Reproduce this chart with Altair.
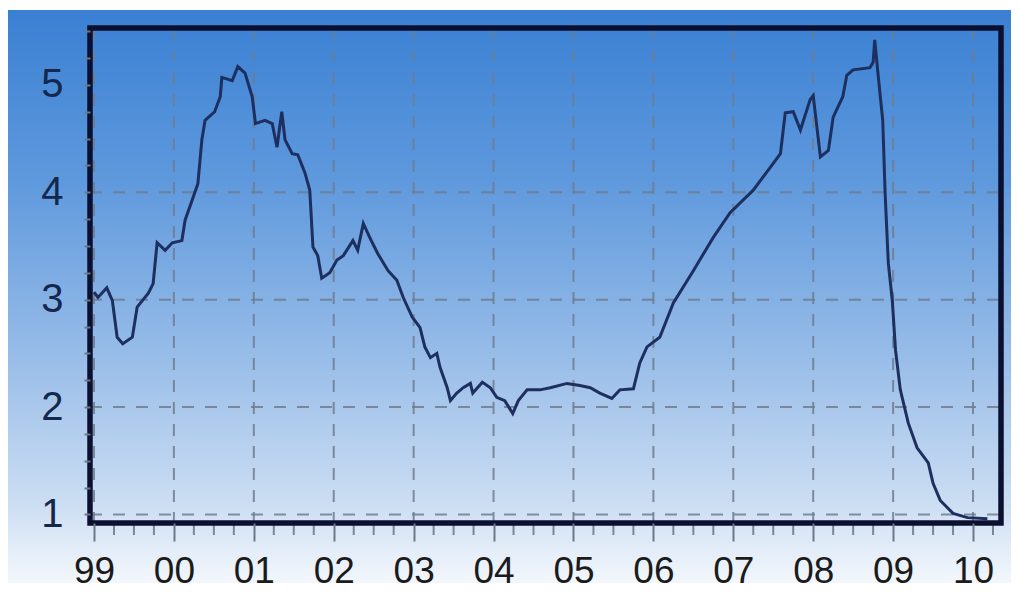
import altair as alt
import pandas as pd

# ---- data ----
years = [1999.00, 1999.05, 1999.16, 1999.23, 1999.29, 1999.36, 1999.48, 1999.54, 1999.68, 1999.74, 1999.79, 1999.89, 1999.98,
         2000.10, 2000.14, 2000.23, 2000.30, 2000.35, 2000.39, 2000.51, 2000.58, 2000.60, 2000.73, 2000.80, 2000.89, 2000.98,
         2001.02, 2001.14, 2001.23, 2001.29, 2001.35, 2001.39, 2001.48, 2001.55, 2001.64, 2001.70, 2001.74, 2001.80, 2001.85, 2001.95,
         2002.04, 2002.12, 2002.24, 2002.30, 2002.37, 2002.45, 2002.55, 2002.68, 2002.79, 2002.87, 2002.98,
         2003.08, 2003.14, 2003.21, 2003.29, 2003.33, 2003.42, 2003.46, 2003.54, 2003.62, 2003.71, 2003.74, 2003.86, 2003.96,
         2004.04, 2004.14, 2004.24, 2004.31, 2004.42, 2004.58, 2004.71, 2004.92,
         2005.08, 2005.21, 2005.33, 2005.48, 2005.58, 2005.75, 2005.83, 2005.92,
         2006.08, 2006.25, 2006.50, 2006.75, 2006.96,
         2007.25, 2007.59, 2007.65, 2007.75, 2007.84, 2007.96,
         2008.00, 2008.09, 2008.19, 2008.25, 2008.37, 2008.42, 2008.50, 2008.71, 2008.75, 2008.77, 2008.81, 2008.87, 2008.90, 2008.94, 2008.99,
         2009.03, 2009.09, 2009.19, 2009.30, 2009.44, 2009.50, 2009.59, 2009.75, 2009.93, 2010.18]

rate = [3.07, 3.02, 3.11, 2.99, 2.65, 2.59, 2.65, 2.93, 3.06, 3.15, 3.53, 3.46, 3.53,
        3.55, 3.74, 3.93, 4.08, 4.49, 4.67, 4.75, 4.89, 5.07, 5.04, 5.17, 5.11, 4.89,
        4.64, 4.67, 4.64, 4.42, 4.75, 4.49, 4.36, 4.35, 4.18, 4.02, 3.49, 3.41, 3.20, 3.25,
        3.37, 3.41, 3.55, 3.46, 3.71, 3.58, 3.43, 3.27, 3.18, 3.02, 2.84,
        2.74, 2.56, 2.46, 2.50, 2.37, 2.18, 2.06, 2.13, 2.18, 2.22, 2.13, 2.23, 2.18,
        2.09, 2.06, 1.94, 2.06, 2.16, 2.16, 2.18, 2.22,
        2.20, 2.18, 2.13, 2.08, 2.16, 2.17, 2.41, 2.56,
        2.65, 2.97, 3.27, 3.58, 3.81,
        4.02, 4.36, 4.74, 4.75, 4.58, 4.86,
        4.90, 4.33, 4.39, 4.70, 4.89, 5.09, 5.14, 5.16, 5.21, 5.42, 5.11, 4.67, 3.99, 3.34, 2.99,
        2.53, 2.16, 1.85, 1.62, 1.48, 1.29, 1.13, 1.01, 0.97, 0.96]

x_tick_values = list(range(1999, 2011))
x_tick_labels = ['99', '00', '01', '02', '03', '04', '05', '06', '07', '08', '09', '10']
y_label_values = [1, 2, 3, 4, 5]
y_grid_values = [1, 2, 3, 4]

# axis structure (minor ticks every quarter)
x_minor = [y + q / 4 for y in range(1998, 2011) for q in (1, 2, 3)]
x_minor = [m for m in x_minor if 1998.95 <= m <= 2010.35]
y_ticks = [i / 4 for i in range(4, 23)]

W, H = 911, 495
X_DOMAIN = [1998.95, 2010.35]
Y_DOMAIN = [0.92, 5.53]

df = pd.DataFrame({'t': years, 'v': rate})
xscale = alt.Scale(domain=X_DOMAIN, nice=False, zero=False)
yscale = alt.Scale(domain=Y_DOMAIN, nice=False, zero=False)

label_expr = "[" + ",".join("'%s'" % s for s in x_tick_labels) + "][round(datum.value) - %d]" % x_tick_values[0]

xaxis = alt.Axis(
    values=x_tick_values, labelExpr=label_expr, title=None, grid=False, domain=False,
    tickSize=18, tickColor='#6b7888', tickWidth=2, labelFontSize=37,
    labelFont='Liberation Sans', labelColor='#1b1b1b', labelPadding=12,
    labelOverlap=False, labelFlush=False, zindex=1)
yaxis = alt.Axis(
    values=y_ticks, labelExpr="datum.value % 1 === 0 ? format(datum.value, 'd') : ''",
    title=None, grid=False, domain=False, tickSize=6, tickColor='#6b7888', tickWidth=2,
    labelFontSize=40, labelFont='Liberation Sans', labelColor='#14284d',
    labelPadding=21, labelOverlap=False, labelFlush=False, zindex=1)

gradient = alt.LinearGradient(
    gradient='linear', x1=0, x2=0, y1=0, y2=1,
    stops=[alt.GradientStop(color='#3a80d3', offset=0),
           alt.GradientStop(color='#5f99dd', offset=0.3),
           alt.GradientStop(color='#97bce8', offset=0.6),
           alt.GradientStop(color='#c9dcf2', offset=0.85),
           alt.GradientStop(color='#f3f7fc', offset=1)])

one = pd.DataFrame({'a': [0]})

bg = alt.Chart(one).mark_rect(fill=gradient).encode(
    x=alt.value(-83), x2=alt.value(W + 10), y=alt.value(-18), y2=alt.value(H + 60))

GRID = '#6e7d8e'
vgrid = alt.Chart(pd.DataFrame({'t': x_tick_values})).mark_rule(
    color=GRID, strokeWidth=2, strokeDash=[12, 10], opacity=0.85).encode(
    x=alt.X('t:Q', scale=xscale, axis=xaxis), y=alt.value(0), y2=alt.value(H))

hgrid = alt.Chart(pd.DataFrame({'v': y_grid_values})).mark_rule(
    color=GRID, strokeWidth=2, strokeDash=[12, 11], opacity=0.85).encode(
    y=alt.Y('v:Q', scale=yscale, axis=yaxis), x=alt.value(0), x2=alt.value(W))

minor = alt.Chart(pd.DataFrame({'t': x_minor})).mark_rule(
    color='#7a8796', strokeWidth=2).encode(
    x=alt.X('t:Q', scale=xscale, axis=xaxis), y=alt.value(H), y2=alt.value(H + 12))

line = alt.Chart(df).mark_line(color='#1d2f5e', strokeWidth=3).encode(
    x=alt.X('t:Q', scale=xscale, axis=xaxis),
    y=alt.Y('v:Q', scale=yscale, axis=yaxis))

frame = alt.Chart(one).mark_rect(filled=False, stroke='#0b1030', strokeWidth=5.5).encode(
    x=alt.value(0), x2=alt.value(W), y=alt.value(0), y2=alt.value(H))

chart = alt.layer(bg, vgrid, hgrid, minor, line, frame).properties(
    width=W, height=H,
    padding={'left': 82, 'top': 20, 'right': 10, 'bottom': 68},
    autosize=alt.AutoSizeParams(type='none'),
    background='white',
).configure_view(stroke=None)

chart.save('out.html', embed_options={'renderer': 'svg', 'actions': False})
